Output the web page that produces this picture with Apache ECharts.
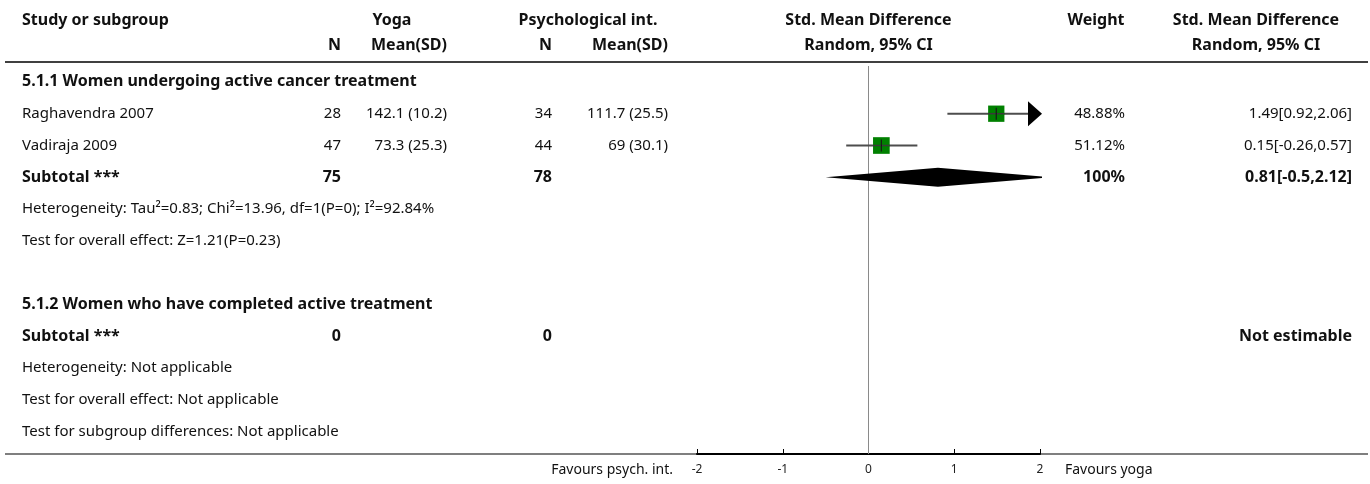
<!DOCTYPE html>
<html>
<head>
<meta charset="utf-8">
<script src="https://cdn.jsdelivr.net/npm/echarts@6/dist/echarts.min.js"></script>
<style>
  html, body { margin: 0; padding: 0; background: #fff; }
  #chart { width: 1370px; height: 484px; }
</style>
</head>
<body>
<div id="chart"></div>
<script>
// ---- Forest plot data: Yoga vs Psychological intervention ----
const studies      = ['Raghavendra 2007', 'Vadiraja 2009'];
const yogaN        = [28, 47];
const yogaMean     = [142.1, 73.3];
const yogaSD       = [10.2, 25.3];
const psychN       = [34, 44];
const psychMean    = [111.7, 69];
const psychSD      = [25.5, 30.1];
const smd          = [1.49, 0.15];
const ciLow        = [0.92, -0.26];
const ciHigh       = [2.06, 0.57];
const weights      = [48.88, 51.12];

const subgroupTitles = ['5.1.1 Women undergoing active cancer treatment',
                        '5.1.2 Women who have completed active treatment'];
const subtotalYogaN  = [75, 0];
const subtotalPsychN = [78, 0];
const subtotalEst    = [0.81];
const subtotalLow    = [-0.5];
const subtotalHigh   = [2.12];
const subtotalWeight = [100];

const heterogeneity = ['Heterogeneity: Tau\u00B2=0.83; Chi\u00B2=13.96, df=1(P=0); I\u00B2=92.84%',
                       'Heterogeneity: Not applicable'];
const overallEffect = ['Test for overall effect: Z=1.21(P=0.23)',
                       'Test for overall effect: Not applicable'];
const subgroupDiff  = 'Test for subgroup differences: Not applicable';

const axisTicks = [-2, -1, 0, 1, 2];
const favoursLeft = 'Favours psych. int.';
const favoursRight = 'Favours yoga';

// ---- layout ----
const FONT = '"Noto Sans"';
const FS = 15;       // regular text
const FSB = 16;      // bold text
const TXT = '#111';
const col = { study: 22, yN: 341, yMean: 447, pN: 552, pMean: 668, weight: 1125, ci: 1352 };

const chart = echarts.init(document.getElementById('chart'), null, { renderer: 'canvas' });

const fmt2 = v => (Math.round(v * 100) / 100).toString();
const ciText = (e, l, h) => fmt2(e) + '[' + fmt2(l) + ',' + fmt2(h) + ']';

// row indices on the y axis
const ROW = { g1: 0, s1: 1, s2: 2, sub1: 3, het1: 4, eff1: 5, g2: 7, sub2: 8, het2: 9, eff2: 10, diff: 11 };
const studyRows = [ROW.s1, ROW.s2];

const XMIN = axisTicks[0], XMAX = axisTicks[axisTicks.length - 1];

// study marks: CI line, arrow if clipped, weighted square, centre tick
const studyData = studies.map((s, i) => [smd[i], studyRows[i], ciLow[i], ciHigh[i], weights[i]]);
const diamondData = subtotalEst.map((e, i) => [e, ROW.sub1, subtotalLow[i], subtotalHigh[i]]);

function renderStudy(params, api) {
  const est = api.value(0), row = api.value(1), lo = api.value(2), hi = api.value(3), w = api.value(4);
  const c = api.coord([est, row]);
  const pLo = api.coord([Math.max(lo, XMIN), row]);
  const pHi = api.coord([Math.min(hi, XMAX), row]);
  const children = [];
  const arrowLen = 14, arrowHalf = 12.5;
  let lineEnd = pHi[0];
  if (hi > XMAX) lineEnd = pHi[0] - arrowLen + 2;
  let lineStart = pLo[0];
  if (lo < XMIN) lineStart = pLo[0] + arrowLen - 2;
  children.push({ type: 'line', shape: { x1: lineStart, y1: c[1], x2: lineEnd, y2: c[1] },
    style: { stroke: '#4d4d4d', lineWidth: 2 } });
  const side = 2.33 * Math.sqrt(w);
  children.push({ type: 'rect', shape: { x: c[0] - side / 2, y: c[1] - side / 2, width: side, height: side },
    style: { fill: '#008000' } });
  children.push({ type: 'line', shape: { x1: c[0] - side / 2, y1: c[1], x2: c[0] + side / 2, y2: c[1] },
    style: { stroke: '#3a3a3a', lineWidth: 1.5 } });
  children.push({ type: 'line', shape: { x1: c[0], y1: c[1] - 6, x2: c[0], y2: c[1] + 6 },
    style: { stroke: '#1a1a1a', lineWidth: 1.2 } });
  if (hi > XMAX) {
    const tip = pHi[0] + 2;
    children.push({ type: 'polygon', shape: { points: [[tip - arrowLen, c[1] - arrowHalf], [tip, c[1]], [tip - arrowLen, c[1] + arrowHalf]] },
      style: { fill: '#000' } });
  }
  if (lo < XMIN) {
    const tip = pLo[0] - 2;
    children.push({ type: 'polygon', shape: { points: [[tip + arrowLen, c[1] - arrowHalf], [tip, c[1]], [tip + arrowLen, c[1] + arrowHalf]] },
      style: { fill: '#000' } });
  }
  return { type: 'group', children };
}

function renderDiamond(params, api) {
  const est = api.value(0), row = api.value(1), lo = api.value(2), hi = api.value(3);
  const h = 9.5;
  const pc = api.coord([est, row]);
  const pl = api.coord([lo, row]);
  const ph = api.coord([hi, row]);
  const limR = api.coord([XMAX, row])[0] + 2;
  const limL = api.coord([XMIN, row])[0] - 2;
  const y = pc[1];
  const pts = [];
  if (pl[0] < limL) {
    const hh = h * (pc[0] - limL) / (pc[0] - pl[0]);
    pts.push([limL, y + hh], [limL, y - hh]);
  } else pts.push([pl[0], y]);
  pts.push([pc[0], y - h]);
  if (ph[0] > limR) {
    const hh = h * (ph[0] - limR) / (ph[0] - pc[0]);
    pts.push([limR, y - hh], [limR, y + hh]);
  } else pts.push([ph[0], y]);
  pts.push([pc[0], y + h]);
  return { type: 'polygon', shape: { points: pts }, style: { fill: '#000' } };
}

chart.setOption({
  animation: false,
  backgroundColor: '#fff',
  grid: { left: 697, width: 343, top: 66, height: 388, containLabel: false },
  xAxis: {
    type: 'value', min: XMIN, max: XMAX, interval: 1,
    axisLine: { show: true, onZero: false, lineStyle: { color: '#000', width: 2 } },
    axisTick: { show: true, inside: true, length: 5, lineStyle: { color: '#000', width: 1 } },
    axisLabel: { fontFamily: FONT, fontSize: 12, color: '#222', margin: 10 },
    splitLine: { show: false }
  },
  yAxis: {
    type: 'value', inverse: true, min: -0.5, max: 11.7,
    show: false, splitLine: { show: false }
  },
  series: [
    {
      type: 'line', data: [[0, -0.5], [0, 11.7]], symbol: 'none', silent: true,
      lineStyle: { color: '#8a8a8a', width: 1 }, z: 1
    },
    { type: 'custom', data: studyData, renderItem: renderStudy, z: 3, clip: false },
    { type: 'custom', data: diamondData, renderItem: renderDiamond, z: 3, clip: false }
  ]
});

// ---- text table, placed on the same rows as the plot ----
const rowY = r => chart.convertToPixel({ gridIndex: 0 }, [0, r])[1];
const xAt = v => chart.convertToPixel({ gridIndex: 0 }, [v, 0])[0];

function txt(text, x, y, align, bold, size, color) {
  return {
    type: 'text', x: x, y: y, silent: true,
    style: {
      text: String(text), x: 0, y: 0, align: align || 'left', verticalAlign: 'middle',
      fontFamily: FONT, fontSize: size || (bold ? FSB : FS), fontWeight: bold ? 'bold' : 'normal',
      fill: color || TXT
    }
  };
}

const g = [];
// header
const H1 = 20, H2 = 45;
g.push(txt('Study or subgroup', col.study, H1, 'left', true));
g.push(txt('Yoga', 392, H1, 'center', true));
g.push(txt('Psychological int.', 588, H1, 'center', true));
g.push(txt('Std. Mean Difference', xAt(0), H1, 'center', true));
g.push(txt('Weight', 1096, H1, 'center', true));
g.push(txt('Std. Mean Difference', 1256, H1, 'center', true));
g.push(txt('N', col.yN, H2, 'right', true));
g.push(txt('Mean(SD)', col.yMean, H2, 'right', true));
g.push(txt('N', col.pN, H2, 'right', true));
g.push(txt('Mean(SD)', col.pMean, H2, 'right', true));
g.push(txt('Random, 95% CI', xAt(0), H2, 'center', true));
g.push(txt('Random, 95% CI', 1256, H2, 'center', true));
g.push({ type: 'line', silent: true, shape: { x1: 5, y1: 62, x2: 1368, y2: 62 }, style: { stroke: '#000', lineWidth: 1.6 } });

// subgroup 1
g.push(txt(subgroupTitles[0], col.study, rowY(ROW.g1), 'left', true));
studies.forEach((s, i) => {
  const y = rowY(studyRows[i]);
  g.push(txt(s, col.study, y));
  g.push(txt(yogaN[i], col.yN, y, 'right'));
  g.push(txt(yogaMean[i] + ' (' + yogaSD[i] + ')', col.yMean, y, 'right'));
  g.push(txt(psychN[i], col.pN, y, 'right'));
  g.push(txt(psychMean[i] + ' (' + psychSD[i] + ')', col.pMean, y, 'right'));
  g.push(txt(weights[i].toFixed(2) + '%', col.weight, y, 'right'));
  g.push(txt(ciText(smd[i], ciLow[i], ciHigh[i]), col.ci, y, 'right'));
});
let y = rowY(ROW.sub1);
g.push(txt('Subtotal ***', col.study, y, 'left', true));
g.push(txt(subtotalYogaN[0], col.yN, y, 'right', true));
g.push(txt(subtotalPsychN[0], col.pN, y, 'right', true));
g.push(txt(subtotalWeight[0] + '%', col.weight, y, 'right', true));
g.push(txt(ciText(subtotalEst[0], subtotalLow[0], subtotalHigh[0]), col.ci, y, 'right', true));
g.push(txt(heterogeneity[0], col.study, rowY(ROW.het1)));
g.push(txt(overallEffect[0], col.study, rowY(ROW.eff1)));

// subgroup 2
g.push(txt(subgroupTitles[1], col.study, rowY(ROW.g2), 'left', true));
y = rowY(ROW.sub2);
g.push(txt('Subtotal ***', col.study, y, 'left', true));
g.push(txt(subtotalYogaN[1], col.yN, y, 'right', true));
g.push(txt(subtotalPsychN[1], col.pN, y, 'right', true));
g.push(txt('Not estimable', col.ci, y, 'right', true));
g.push(txt(heterogeneity[1], col.study, rowY(ROW.het2)));
g.push(txt(overallEffect[1], col.study, rowY(ROW.eff2)));
g.push(txt(subgroupDiff, col.study, rowY(ROW.diff)));

// bottom rule and favours labels
const yAxisLine = rowY(11.7);
g.push({ type: 'line', silent: true, z: -1, shape: { x1: 5, y1: yAxisLine, x2: 1368, y2: yAxisLine }, style: { stroke: '#000', lineWidth: 1.2 } });
g.push(txt(favoursLeft, xAt(XMIN) - 24, 470, 'right', false, 14));
g.push(txt(favoursRight, xAt(XMAX) + 25, 470, 'left', false, 14));

chart.setOption({ graphic: { elements: g } });
</script>
</body>
</html>
